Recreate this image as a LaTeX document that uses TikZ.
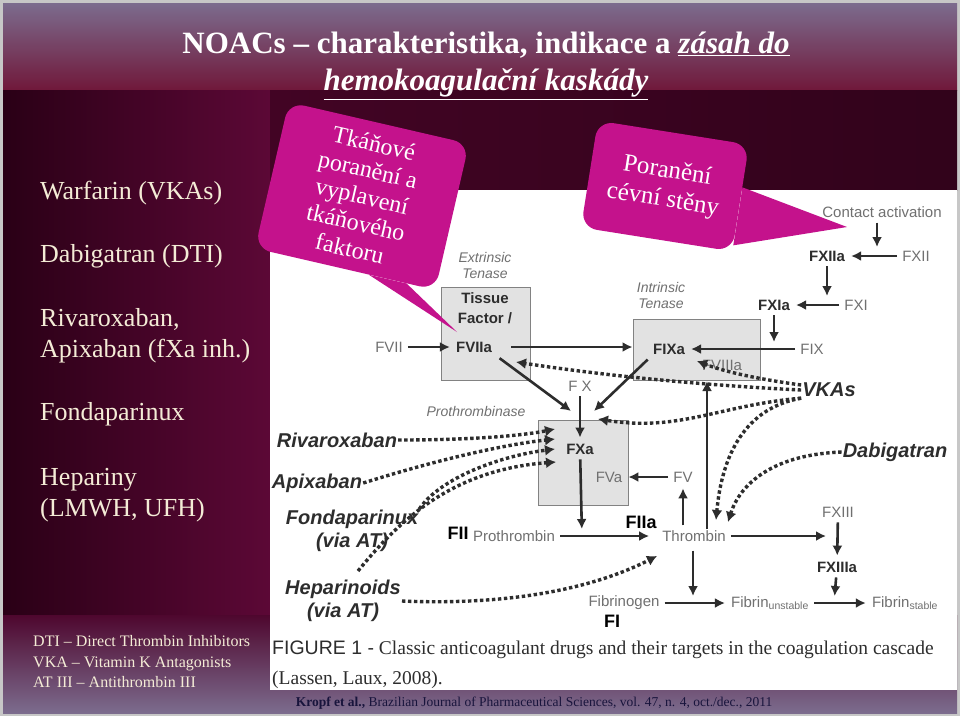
\documentclass[tikz,border=0pt]{standalone}
\usepackage{fontspec}
\setmainfont{Liberation Serif}
\setsansfont{Liberation Sans}
\usetikzlibrary{arrows.meta,positioning}

\definecolor{hdtop}{RGB}{124,108,142}
\definecolor{hdbot}{RGB}{112,24,58}
\definecolor{pnlleft}{RGB}{42,0,22}
\definecolor{pnlright}{RGB}{92,8,54}
\definecolor{strip}{RGB}{66,4,36}
\definecolor{cream}{RGB}{244,236,214}
\definecolor{callout}{RGB}{196,18,140}
\definecolor{facgray}{RGB}{112,112,112}
\definecolor{ink}{RGB}{45,45,45}
\definecolor{boxfill}{RGB}{226,226,226}
\definecolor{boxline}{RGB}{130,130,130}
\definecolor{srcink}{RGB}{24,20,60}

\tikzset{
  fac/.style={font=\sffamily\fontsize{15}{17}\selectfont, text=facgray, inner sep=1pt},
  act/.style={font=\sffamily\bfseries\fontsize{15}{17}\selectfont, text=ink, inner sep=1pt},
  roman/.style={font=\sffamily\bfseries\fontsize{18}{18}\selectfont, text=black, inner sep=1pt},
  drug/.style={font=\sffamily\bfseries\itshape\fontsize{20}{23}\selectfont, text=ink, align=center, inner sep=1pt},
  cplx/.style={draw=boxline, fill=boxfill, line width=1pt, inner sep=0pt},
  tenlbl/.style={font=\sffamily\itshape\fontsize{14}{16}\selectfont, text=facgray, align=center, inner sep=1pt},
  arr/.style={draw=ink, line width=2.6pt, shorten <=4pt, shorten >=5pt, -{Latex[length=10pt,width=10pt]}},
  inh/.style={draw=ink, line width=3.4pt, dash pattern=on 3.4pt off 2.6pt, -{Latex[length=10pt,width=11pt]}},
  bubble/.style={fill=callout, rounded corners=16pt, text=white, align=center, font=\fontsize{24}{27}\selectfont},
  side/.style={text=cream, font=\fontsize{26}{31}\selectfont, anchor=west, align=left, inner sep=0pt},
}

\begin{document}
\begin{tikzpicture}[x=1pt,y=-1pt]
\useasboundingbox (0,0) rectangle (960,716);

% slide background
\fill[black!22] (0,0) rectangle (960,716);
\shade[top color=hdtop, bottom color=hdbot] (3,3) rectangle (957,90);
\shade[left color=pnlleft, right color=pnlright] (3,90) rectangle (270,615);
\shade[left color=strip, right color=strip!75!black] (270,90) rectangle (957,190);
\shade[top color=pnlright!85!black, bottom color=hdtop] (3,615) rectangle (957,713);
\fill[white] (270,190) rectangle (957,690);

% title
\node[text=white, font=\bfseries\fontsize{31}{37}\selectfont, align=center] (title) at (486,66)
  {NOACs – charakteristika, indikace a \underline{\textit{zásah do}}\\\underline{\textit{hemokoagulační kaskády}}};

% left column
\node[side] (sWarf) at (40,193) {Warfarin (VKAs)};
\node[side] (sDabi) at (40,256) {Dabigatran (DTI)};
\node[side] (sXa) at (40,336) {Rivaroxaban,\\Apixaban (fXa inh.)};
\node[side] (sFonda) at (40,414) {Fondaparinux};
\node[side] (sHep) at (40,495) {Hepariny\\(LMWH, UFH)};
\node[text=cream, font=\fontsize{16}{20.5}\selectfont, align=left, anchor=west, inner sep=0pt] (lgd) at (33,662)
  {DTI – Direct Thrombin Inhibitors\\VKA – Vitamin K Antagonists\\AT III – Antithrombin III};

% caption and source
\node[anchor=west, text=ink, font=\fontsize{19.5}{30}\selectfont, align=left, inner sep=0pt] (cap) at (272,665)
  {{\sffamily FIGURE 1 -} Classic anticoagulant drugs and their targets in the coagulation cascade\\(Lassen, Laux, 2008).};
\node[text=srcink, font=\fontsize{13.5}{16}\selectfont] (src) at (534,703)
  {\textbf{Kropf et al.,} Brazilian Journal of Pharmaceutical Sciences, vol. 47, n. 4, oct./dec., 2011};

% complexes
\node[cplx, minimum width=89pt, minimum height=93pt] (ext) at (485.5,333.5) {};
\node[cplx, minimum width=127pt, minimum height=61pt] (itn) at (696.5,349.5) {};
\node[cplx, minimum width=90pt, minimum height=85pt] (pth) at (583,462.5) {};

% factors
\node[tenlbl] (extl) at (485,265) {Extrinsic\\Tenase};
\node[act, align=center, font=\sffamily\bfseries\fontsize{15}{20}\selectfont] (tf) at (485,308) {Tissue\\Factor /};
\node[act] (f7a) at (474,347) {FVIIa};
\node[fac] (f7) at (389,347) {FVII};
\node[tenlbl] (itnl) at (661,295) {Intrinsic\\Tenase};
\node[act] (f9a) at (669,349) {FIXa};
\node[fac] (f8a) at (722,365) {FVIIIa};
\node[fac] (f9) at (812,349) {FIX};
\node[act] (f11a) at (774,305) {FXIa};
\node[fac] (f11) at (856,305) {FXI};
\node[act] (f12a) at (827,256) {FXIIa};
\node[fac] (f12) at (916,256) {FXII};
\node[fac] (ca) at (882,212) {Contact activation};
\node[fac] (fx) at (580,386) {F X};
\node[tenlbl] (ptl) at (476,411) {Prothrombinase};
\node[act] (f10a) at (580,449) {FXa};
\node[fac] (f5a) at (609,477) {FVa};
\node[fac] (f5) at (683,477) {FV};
\node[roman] (f2) at (458,533) {FII};
\node[fac] (ptb) at (514,536) {Prothrombin};
\node[roman] (f2a) at (641,522) {FIIa};
\node[fac] (thr) at (694,536) {Thrombin};
\node[fac] (f13) at (838,512) {FXIII};
\node[act] (f13a) at (837,567) {FXIIIa};
\node[fac] (fbg) at (624,603) {Fibrinogen};
\node[roman] (f1) at (612,621) {FI};
\node[fac] (fbu) at (770,603) {Fibrin\textsubscript{unstable}};
\node[fac] (fbs) at (905,603) {Fibrin\textsubscript{stable}};

% drugs
\node[drug] (riva) at (337,440) {Rivaroxaban};
\node[drug] (apix) at (317,483) {Apixaban};
\node[drug] (fdpx) at (352,531) {Fondaparinux\\(via AT)};
\node[drug] (hepd) at (343,601) {Heparinoids\\(via AT)};
\node[drug] (vkas) at (829,390) {VKAs};
\node[drug] (dabi) at (895,452) {Dabigatran};

% junctions
\coordinate (j12) at (877,256);
\coordinate (j11) at (827,305);
\coordinate (j9) at (774,349);
\coordinate (jxa1) at (571,411);
\coordinate (jxa2) at (594,411);
\coordinate (j2) at (582,536);
\coordinate (jti) at (707,381);
\coordinate (j13) at (834,536);
\coordinate (j16) at (834,603);
\coordinate (j15) at (693,603);

% cascade
\draw[arr, shorten >=9pt] (ca.south -| j12) -- (j12);
\draw[arr] (f12) -- (f12a);
\draw[arr, shorten >=9pt] (f12a) -- (j11);
\draw[arr] (f11) -- (f11a);
\draw[arr, shorten >=7pt] (f11a) -- (j9);
\draw[arr] (f9) -- (f9a);
\draw[arr] (f7) -- (f7a);
\draw[arr, shorten <=18pt, shorten >=0pt] (f7a) -- (f7a -| itn.west);
\draw[arr, shorten <=8pt, shorten >=0pt] (f7a.south east) -- (jxa1);
\draw[arr, shorten <=6pt, shorten >=0pt] (f9a.south west) -- (jxa2);
\draw[arr] (fx) -- (f10a);
\draw[arr, shorten >=7pt] (f10a) -- (j2);
\draw[arr, shorten >=12pt] (ptb) -- (thr);
\draw[arr] (f5) -- (f5a);
\draw[arr] (thr.north -| f5) -- (f5);
\draw[arr, line width=2pt, shorten <=0pt, shorten >=0pt] (thr.north -| jti) -- (jti);
\draw[arr, shorten >=8pt] (thr) -- (j13);
\draw[arr] (f13) -- (f13a);
\draw[arr, shorten >=7pt] (f13a) -- (j16);
\draw[arr, shorten <=8pt, shorten >=7pt] (thr.south -| j15) -- (j15);
\draw[arr] (fbg) -- (fbu);
\draw[arr] (fbu) -- (fbs);

% inhibitors
\coordinate (t7) at (516,362);
\coordinate (t9) at (697,361);
\coordinate (t10) at (598,419);
\coordinate (ta1) at (555,429);
\coordinate (ta2) at (555,439);
\coordinate (ta3) at (555,449);
\coordinate (ta4) at (556,462);
\coordinate (tt1) at (716,520);
\coordinate (tt2) at (728,522);
\coordinate (tt3) at (657,556);

\draw[inh] (vkas.west) .. controls (720,386) and (620,378) .. (t7);
\draw[inh] ([yshift=5pt]vkas.west) .. controls (750,378) and (720,370) .. (t9);
\draw[inh] (vkas.south west) .. controls (720,405) and (680,432) .. (t10);
\draw[inh] (vkas.south west) .. controls (745,408) and (722,455) .. (tt1);
\draw[inh] (dabi.west) .. controls (765,455) and (738,490) .. (tt2);
\draw[inh] (riva.east) .. controls (470,440) and (520,436) .. (ta1);
\draw[inh] (apix.east) .. controls (430,462) and (500,445) .. (ta2);
\draw[inh] (fdpx.north east) .. controls (440,478) and (500,456) .. (ta3);
\draw[inh] ([xshift=15pt,yshift=8pt]hepd.north) .. controls (398,522) and (450,470) .. (ta4);
\draw[inh] (hepd.east) .. controls (520,606) and (600,585) .. (tt3);

% callouts
\node[bubble, rotate=-13, minimum width=185pt, minimum height=150pt] (tis) at (362,196)
  {Tkáňové\\poranění a\\vyplavení\\tkáňového\\faktoru};
\coordinate (tisTip) at (457,332);
\fill[callout] (tis.-72) -- (tisTip) -- (tis.-50) -- cycle;

\node[bubble, rotate=-9, minimum width=153pt, minimum height=108pt, font=\fontsize{25}{29}\selectfont] (ves) at (665,186)
  {Poranění\\cévní stěny};
\coordinate (vesTip) at (847,227);
\fill[callout] (ves.8) -- (vesTip) -- (ves.-32) -- cycle;
\end{tikzpicture}
\end{document}
